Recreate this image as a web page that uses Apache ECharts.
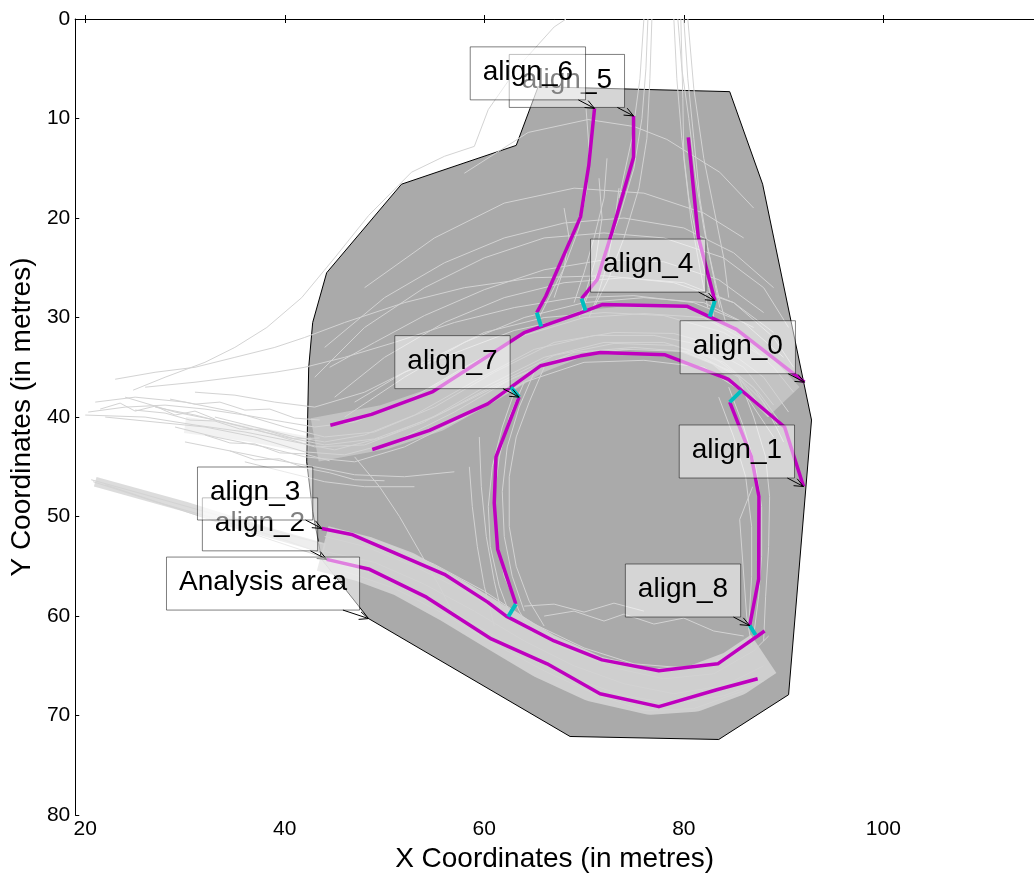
<!DOCTYPE html>
<html><head><meta charset="utf-8">
<script src="https://cdn.jsdelivr.net/npm/echarts@6/dist/echarts.min.js"></script>
<style>html,body{margin:0;padding:0;background:#fff}#c{width:1034px;height:878px}</style>
</head><body><div id="c"></div>
<script>
// ---- axis ticks ----
const xTicks = [20, 40, 60, 80, 100];
const yTicks = [0, 10, 20, 30, 40, 50, 60, 70, 80];

// ---- analysis area polygon ----
const areaX = [44.2, 51.7, 63.2, 65.4, 84.6, 87.9, 92.8, 90.5, 83.5, 68.6, 48.4, 43.7, 42.8, 42.2, 42.4, 42.8];
const areaY = [25.5, 16.6, 12.7, 6.8, 7.3, 16.6, 40.3, 67.9, 72.4, 72.1, 60.25, 54.3, 49.5, 44.5, 35.0, 30.5];

// ---- alignment lines (magenta) ----
const align0Line = [[44.57,40.83],[48.7,39.73],[54.85,37.44],[63.99,31.52],[69.65,29.53],[71.81,28.7],[80.29,28.86],[85.28,31.19],[92.09,36.5]];
const align1Line = [[48.77,43.26],[54.51,41.33],[60.34,38.67],[65.66,34.84],[69.65,33.85],[71.64,33.52],[78.12,33.75],[84.44,36.18],[90.1,41.0],[92.0,46.98]];
const align2Line = [[44.2,54.3],[48.5,55.3],[54.2,58.1],[60.7,62.3],[66.3,64.8],[71.6,67.8],[77.5,69.1],[83.3,67.4],[87.4,66.3]];
const align3Line = [[43.71,51.2],[46.7,51.8],[56.0,55.8],[60.34,58.6],[62.2,60.0],[67.0,62.5],[71.8,64.4],[77.5,65.5],[83.4,64.8],[88.1,61.5]];
const align4Line = [[80.45,11.9],[81.45,21.9],[83.11,28.3]];
const align5Line = [[74.96,9.74],[74.96,13.9],[72.81,21.38],[71.31,26.2],[69.75,28.1]];
const align6Line = [[71.05,8.98],[70.47,14.73],[69.65,19.88],[66.16,27.86],[65.26,29.5]];
const align7Line = [[63.49,38.0],[61.17,44.0],[61.0,48.65],[61.34,53.3],[63.16,58.78]];
const align8Line = [[84.6,38.5],[86.77,43.99],[87.53,47.98],[87.5,56.29],[86.6,60.95]];

// ---- connectors (cyan) ----
const link4 = [[83.11,28.3],[82.6,29.9]];
const link5 = [[69.75,28.1],[70.15,29.3]];
const link6 = [[65.26,29.5],[65.7,30.9]];
const link7a = [[62.66,37.0],[63.49,38.0]];
const link7b = [[63.16,58.8],[62.4,60.05]];
const link8a = [[85.78,37.34],[84.6,38.5]];
const link8b = [[86.6,60.95],[87.2,61.9]];

// ---- annotations ----
const annText = ['align_0','align_1','align_2','align_3','align_4','align_5','align_6','align_7','align_8','Analysis area'];
const annX = [92.09, 92.0, 44.2, 43.71, 83.11, 74.96, 71.05, 63.49, 86.6, 48.4];
const annY = [36.5, 46.98, 54.3, 51.2, 28.3, 9.74, 8.98, 38.0, 60.95, 60.25];

// ---- dense bundles (centre lines of the light-grey corridors) ----
const bandUpper = [[43,42.3],[50,41],[55,39.3],[60,36.5],[65,33.5],[70,31.5],[75,31],[80,31.2],[84,32.8],[87,35.3],[90,38.5]];
const bandLower = [[43.8,53.2],[48,54.3],[52,55.8],[56.7,58.4],[61,61],[66,64],[71,66.3],[76.6,67.6],[81,67.3],[85,65.8],[88,63.8]];
const bandWedge = [[21,46.5],[30,49],[38,51.5],[44,53.2]];
const bandFan = [[30,40.8],[36,41.6],[42.5,42.8]];

// ---- individual trajectories (light grey) ----
const tracksFan = [
 [[20.3,39.5],[24,39],[28,38.8],[32,39.2],[36,39.8],[40,40.5],[43,41],[47,40.5],[52,38.5],[58,35],[64,31.8],[70,30],[76,29.6],[82,30],[86,32.2],[89,35],[91,37.5]],
 [[21,38.5],[25,38],[30,38.5],[35,39.5],[40,41],[44,42],[49,41.5],[55,39],[61,35.5],[67,32.5],[73,31.5],[79,31.6],[84,33],[88,36],[90.5,39.5]],
 [[24,38],[29,39.5],[34,40.5],[39,41.8],[43,43],[48,42.8],[54,40.5],[60,37],[66,34],[72,32.5],[78,32.5],[83,34],[87,37],[89.5,41]],
 [[22,40],[27,40.5],[32,41],[37,42],[42,43.5],[46,43.8],[51,42.5],[57,39.5],[63,36],[69,33.5],[75,33],[81,33.5],[85.5,36],[88.5,40]],
 [[26,37],[31,36.5],[35,36],[39,35.5],[42,35],[46,34],[51,32.5],[57,30.5],[63,29],[69,28],[75,27.8],[81,28.5],[86,30.5],[90,34]],
 [[23,36.2],[27,35.5],[31,35],[35,34],[39,33],[42,32],[46,30.5],[52,28.5],[58,27],[65,26],[72,25.8],[79,26.5],[85,28.5],[89,31.5]],
 [[29,41],[33,42],[38,43],[42,44],[47,44.5],[52,43],[58,40],[64,36.5],[70,34.5],[76,34.3],[82,35],[86,37.5],[89,42]],
 [[31,37.5],[35,37.8],[39,38.5],[43,39],[48,37.5],[54,34.5],[60,31.5],[66,30],[72,29.5],[78,29.8],[84,31.5],[88,34]],
 [[20,39.8],[26,40],[31,40.8],[36,41.5],[41,42.5],[45,43.3],[50,42],[56,39.5],[62,36.5],[68,34],[74,33.2],[80,33.4],[85,35.5],[88,38.5],[90,42.5]],
 [[27,39],[31,39.8],[35,40.8],[40,42],[44,42.8],[49,42.2],[55,40],[61,36.8],[67,33.8],[73,32.6],[79,32.8],[84,34.5],[87.5,37.5],[90,41]],
 [[33,40],[37,41],[41,42],[44,42.5],[48,41.8],[53,39.8],[59,36.4],[65,33.2],[71,31.8],[77,31.8],[82,32.8],[86,35],[89,38.8]],
 [[30,42.5],[35,43.5],[39,44.3],[43,45],[47,45.8],[52,46],[57,45.5]],
 [[36,44.5],[40,45.5],[44,46.5],[48,47],[53,47]],
 [[25,39.3],[28,39.6],[30.5,40.3],[33,40.4],[35.5,41.2],[38,41.3],[41,42.2],[43.5,42.1]],
 [[28.5,38.2],[31,38.7],[33.5,38.5],[36,39.3],[38.5,39.2],[41,40.1],[43.5,40.3]],
 [[32,41.8],[34.5,42.6],[37,42.7],[39.5,43.6],[42,43.7],[44.5,44.4]],
 [[21.5,39.2],[23.5,38.6],[25,39.4],[27,38.9],[29,39.8],[31,39.4],[33,40.2]],
 [[34.5,43.4],[37,44.3],[39.5,44.2],[42,45.1],[44.5,45.6],[47,46.3],[50,46.4]],
 [[24.8,37.3],[28,36],[32,34.5],[35,33],[38.2,31],[41.7,28],[45,24],[48.4,19.75],[52.7,15.4],[56,13.8],[59,12.8],[60.4,9.1],[63.4,4.8],[67,0.8],[68.2,0]]
];
const tracksArc = [
 [[43,36],[48,31],[54,27],[60,24],[66,22],[72,21.5],[78,22],[84,24],[88,27],[90.5,31]],
 [[44,33],[50,28],[56,24.5],[62,22],[68,20.5],[74,20],[80,21],[85,23.5],[89,27]],
 [[45,38],[50,34],[56,30.5],[62,28],[68,26.5],[74,26],[80,26.5],[85,28.5],[89,32],[91,35]],
 [[46,40],[52,36],[58,32.5],[64,30],[70,28.5],[76,28],[82,28.5],[87,31]],
 [[58,15.5],[64.4,11.4],[70.4,10.1],[75,10.8],[78.3,12.1],[83.6,15.4],[87,19]],
 [[48,27],[55,22],[62,18.5],[69,17],[76,17.5],[82,19.5],[86,22]],
 [[44.5,35],[49,32.5],[54,29.8],[60,27.2],[66,25.2],[72,24.2],[78,24.4],[83.5,26.2],[88,29.5]],
 [[47,38.5],[52,35.5],[58,33.2],[63,31.3],[68,30.2]]
];
const tracksTop = [
 [[76.4,0],[76.2,5],[75.8,10],[75,15],[73.5,20],[72,24],[70.5,27.5],[69.5,30]],
 [[76.8,0],[76.6,6],[76.3,12],[75.5,17],[74,22],[72.5,26],[71,29]],
 [[79,0],[79.3,6],[79.8,12],[80.5,18],[81.5,23],[82.5,27],[83,30]],
 [[79.4,0],[79.8,5],[80.5,10],[81.2,16],[82,21],[83,26],[83.6,29]],
 [[80,0],[80.4,6],[81,12],[81.6,18],[82.4,23],[83.4,27.5],[84.2,30.5]],
 [[79.7,0],[79.9,8],[80,14],[80.7,20],[81.6,25],[82.4,29]],
 [[80.4,0],[81,7],[82,14],[83,19],[84,24],[84.5,28]],
 [[76,0],[75.6,6],[74.8,12],[73.5,18]],
 [[70.2,9],[70.5,13],[70.3,17],[69.5,21],[68,25],[66.5,28],[65.5,30]],
 [[72.3,14],[72,18],[71,22],[70,25.5],[69,28.5]],
 [[71.5,16],[71.8,20],[71.2,24],[70.3,27],[69.8,29.5]],
 [[73.5,17],[73,21],[72.2,25],[71.3,28],[70.5,30]],
 [[68,19],[68.5,22],[68,25],[67,28]]
];
const tracksLoop = [
 [[64,36.5],[62.5,40],[61.5,44],[61,48],[61.2,52],[62,56],[63.5,59.5],[65,62]],
 [[65,35.5],[63.5,39],[62.3,43],[61.8,47.5],[62,52],[62.8,56],[64,59.5]],
 [[63,37.5],[61.8,41],[60.8,45],[60.4,49],[60.6,53],[61.5,57],[62.8,60.5]],
 [[66,35],[64.5,38.5],[63.2,42],[62.5,46],[62.5,51],[63.2,55],[64.5,58.5],[66,61]],
 [[47,44],[49.5,47],[51.5,50],[53.5,53.5],[55.5,57],[57,60]],
 [[58.5,45],[58.8,49],[59.3,53],[60,57],[61,61]],
 [[59.5,42],[59.7,47],[60.2,52],[61,56.5],[61.8,60]]
];
const tracksRight = [
 [[84.5,37],[86,41],[87.2,45],[87.8,49],[87.8,54],[87.5,58],[87,62]],
 [[85.5,36],[87,40],[88.2,44],[88.6,48],[88.5,53],[88.2,58],[88,62.5]],
 [[83.5,38],[85,42],[86.2,46],[86.8,51],[86.8,56],[86.5,61]],
 [[86.9,47],[85.6,50.3],[86.3,60],[86.8,63]]
];
const tracksLower = [
 [[44,52],[48,53],[53,55],[58,57.5],[63,60.5],[68,63.2],[73,65.2],[78,66.3],[83,65.8],[87,63.5],[88.5,62]],
 [[44,53.5],[49,54.6],[54,56.8],[59,59.5],[64,62.5],[69,65],[74,66.8],[79,67.8],[84,67],[88,65]],
 [[44.5,54.5],[49,55.8],[54,58],[59,60.8],[64,63.8],[69,66.3],[74,68],[79,68.8],[84,68],[88,66.5]],
 [[45,51.5],[50,52.7],[55,54.8],[60,57.5],[65,60.8],[70,63.2],[75,64.8],[80,65.2],[85,64],[88,61.5]],
 [[46,55.5],[51,57.2],[56,59.8],[61,62.8],[66,65.5],[71,67.8],[76,69.5],[81,69.3],[86,67.5]],
 [[66,60],[69,59.5],[72,60.5],[74,59.8],[77,60.8],[80,60.2],[83,61.5],[86,62]],
 [[64,59],[67,58.8],[70,59.6],[73,58.7],[76,59.5]],
 [[20.6,46.3],[26,47.8],[32,49.5],[38,51.2],[44,52.8]],
 [[20.8,46.5],[27,48.5],[33,50.2],[39,52],[44,53.8]],
 [[22,46.8],[28,48.8],[34,50.8],[40,52.8],[44.5,54.3]]
];

// ================= chart =================
const FONT = '"Liberation Sans", Arial, sans-serif';
const GREY = '#d3d3d3';
const chart = echarts.init(document.getElementById('c'), null, {renderer: 'canvas'});

const measure = document.createElement('canvas').getContext('2d');
measure.font = '28px ' + FONT;

function lineSeries(data, color, width, z) {
  return {type: 'line', data: data, showSymbol: false, symbol: 'none', silent: true, z: z,
    lineStyle: {color: color, width: width, cap: 'butt', join: 'round'}, animation: false};
}
function tracks(list) {
  return {type: 'lines', coordinateSystem: 'cartesian2d', polyline: true, silent: true, z: 3,
    data: list.map(c => ({coords: c})), lineStyle: {color: GREY, width: 1, opacity: 1}, animation: false};
}
function band(data, width, opacity) {
  return {type: 'line', data: data, showSymbol: false, symbol: 'none', silent: true, z: 2,
    lineStyle: {color: GREY, width: width, opacity: opacity, cap: 'butt', join: 'round'}, animation: false};
}

const series = [
  {type: 'custom', silent: true, z: 1, data: [0], animation: false,
   renderItem: function (params, api) {
     const pts = areaX.map((x, i) => api.coord([x, areaY[i]]));
     return {type: 'polygon', shape: {points: pts}, style: {fill: '#aaaaaa', stroke: '#000', lineWidth: 1}};
   }},
  band(bandUpper, 44, 0.6),
  band(bandLower, 46, 0.9),
  band(bandWedge, 10, 0.8),
  band(bandFan, 16, 0.3),
  tracks(tracksFan), tracks(tracksArc), tracks(tracksTop), tracks(tracksLoop), tracks(tracksRight), tracks(tracksLower)
];
[align0Line, align1Line, align2Line, align3Line, align4Line, align5Line, align6Line, align7Line, align8Line]
  .forEach(l => series.push(lineSeries(l, '#bf00bf', 3.5, 4)));
[link4, link5, link6, link7a, link7b, link8a, link8b]
  .forEach(l => series.push(lineSeries(l, '#00bfbf', 4, 5)));

series.push({
  type: 'custom', silent: true, z: 6, animation: false,
  data: annX.map((x, i) => [x, annY[i]]),
  renderItem: function (params, api) {
    const p = api.coord([api.value(0), api.value(1)]);
    const text = annText[params.dataIndex];
    const tw = measure.measureText(text).width;
    const w = tw + 25, h = 53;
    const right = p[0] - 9, bottom = p[1] - 8.5;
    const cx = right - w / 2, cy = bottom - h / 2;
    const tx = (right - cx) / (p[0] - cx), ty = (bottom - cy) / (p[1] - cy);
    const t = Math.min(tx, ty);
    const sx = cx + t * (p[0] - cx), sy = cy + t * (p[1] - cy);
    const ang = Math.atan2(p[1] - sy, p[0] - sx);
    const hl = 10, ha = 0.4;
    const h1 = [p[0] - hl * Math.cos(ang - ha), p[1] - hl * Math.sin(ang - ha)];
    const h2 = [p[0] - hl * Math.cos(ang + ha), p[1] - hl * Math.sin(ang + ha)];
    return {type: 'group', children: [
      {type: 'rect', shape: {x: right - w, y: bottom - h, width: w, height: h},
       style: {fill: 'rgba(255,255,255,0.5)', stroke: 'rgba(0,0,0,0.5)', lineWidth: 1}},
      {type: 'text', x: cx, y: cy - 1,
       style: {text: text, font: '28px ' + FONT, fill: '#000', align: 'center', verticalAlign: 'middle'}},
      {type: 'polyline', shape: {points: [[sx, sy], [p[0], p[1]]]}, style: {stroke: '#000', lineWidth: 1, fill: null}},
      {type: 'polyline', shape: {points: [h1, [p[0], p[1]], h2]}, style: {stroke: '#000', lineWidth: 1, fill: null}}
    ]};
  }
});

const tickStyle = {show: true, inside: true, length: 4, lineStyle: {color: '#000', width: 1}};
chart.setOption({
  animation: false,
  backgroundColor: '#fff',
  grid: {left: 72.7, top: 19, right: -2, bottom: 57, containLabel: false},
  xAxis: [
    {type: 'value', min: 19, max: 115.1, position: 'bottom',
     axisLine: {show: true, lineStyle: {color: '#000', width: 1}},
     axisTick: Object.assign({customValues: xTicks}, tickStyle),
     axisLabel: {customValues: xTicks, fontSize: 21, fontFamily: FONT, color: '#000', margin: 4},
     splitLine: {show: false},
     name: 'X Coordinates (in metres)', nameLocation: 'middle', nameGap: 23,
     nameTextStyle: {fontSize: 28, fontFamily: FONT, color: '#000'}},
    {type: 'value', min: 19, max: 115.1, position: 'top',
     axisLine: {show: true, lineStyle: {color: '#000', width: 1}},
     axisTick: Object.assign({customValues: xTicks}, tickStyle),
     axisLabel: {show: false}, splitLine: {show: false}}
  ],
  yAxis: [
    {type: 'value', min: 0, max: 80, interval: 10, inverse: true, position: 'left',
     axisLine: {show: true, lineStyle: {color: '#000', width: 1}},
     axisTick: Object.assign({customValues: yTicks}, tickStyle),
     axisLabel: {customValues: yTicks, fontSize: 21, fontFamily: FONT, color: '#000', margin: 5},
     splitLine: {show: false},
     name: 'Y Coordinates (in metres)', nameLocation: 'middle', nameGap: 37, nameRotate: 90,
     nameTextStyle: {fontSize: 28, fontFamily: FONT, color: '#000'}}
  ],
  series: series
});
</script>
</body></html>
